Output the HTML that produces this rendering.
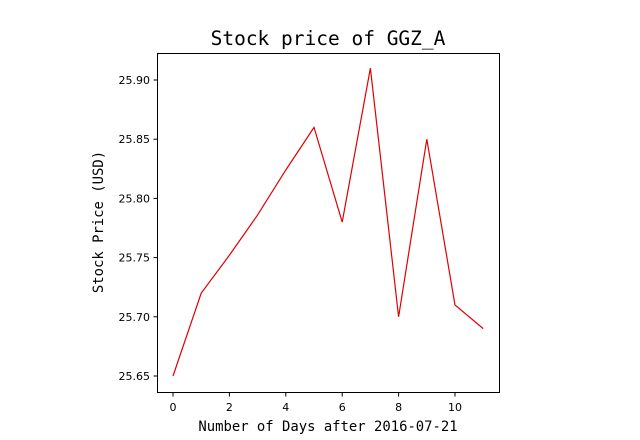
<!DOCTYPE html>
<html><head><meta charset="utf-8">
<style>
body{margin:0;background:#fff;}
svg{display:block;}
.tick{font-family:"DejaVu Sans","Liberation Sans",sans-serif;font-size:11px;fill:#000;}
.mono{font-family:"DejaVu Sans Mono","Liberation Mono",monospace;fill:#000;}
</style></head>
<body>
<svg id="chart" width="640" height="440">
<rect width="640" height="440" fill="#fff"/>
<text class="mono" x="328" y="45" font-size="19.5" text-anchor="middle">Stock price of GGZ_A</text>
<text class="mono" x="328" y="431" font-size="13.9" text-anchor="middle">Number of Days after 2016-07-21</text>
<text class="mono" x="103" y="222" font-size="13.9" text-anchor="middle" transform="rotate(-90 103 222)">Stock Price (USD)</text>
<g id="axes"></g>
<rect x="157.5" y="53.5" width="342" height="339" fill="none" stroke="#000" stroke-width="1"/>
</svg>
<script>
const days = [0,1,2,3,4,5,6,7,8,9,10,11];
const prices = [25.65,25.72,25.752,25.786,25.824,25.86,25.78,25.91,25.70,25.85,25.71,25.69];
const xTicks = [0,2,4,6,8,10];
const yTicks = [25.65,25.70,25.75,25.80,25.85,25.90];
const yTickLabels = ["25.65","25.70","25.75","25.80","25.85","25.90"];

const NS="http://www.w3.org/2000/svg";
const g=document.getElementById('axes');
function xs(v){return 173+v*28.2;}
function ys(v){return 376-(v-25.65)*1184;}
function mk(t,a){const e=document.createElementNS(NS,t);for(const k in a)e.setAttribute(k,a[k]);g.appendChild(e);return e;}
xTicks.forEach(t=>{
  const l=mk('line',{x1:xs(t),x2:xs(t),y1:392.5,y2:396.5,stroke:'#000'});
  
  
  const tx=mk('text',{x:xs(t),y:411,'text-anchor':'middle',class:'tick'});
  tx.textContent=t;
  
  
});
yTicks.forEach((t,i)=>{
  const l=mk('line',{x1:153.5,x2:157.5,y1:ys(t),y2:ys(t),stroke:'#000'});
  
  
  const tx=mk('text',{x:150,y:ys(t)+4,'text-anchor':'end',class:'tick'});
  tx.textContent=yTickLabels[i];
  
  
});
const pts=days.map((d,i)=>xs(d)+','+ys(prices[i])).join(' ');
const line=mk('polyline',{points:pts,fill:'none',stroke:'#e00000','stroke-width':1.2});


</script>
</body></html>
